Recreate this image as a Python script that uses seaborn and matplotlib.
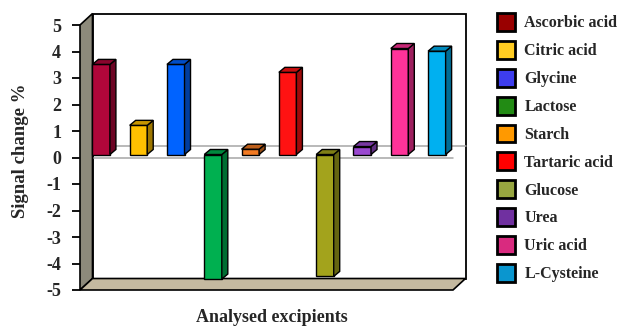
import numpy as np
import pandas as pd
import matplotlib
matplotlib.use("Agg")
import matplotlib.pyplot as plt
from matplotlib.patches import Polygon, Patch
import seaborn as sns

# Signal change caused by each excipient
excipients = ["Ascorbic acid", "Citric acid", "Glycine", "Lactose", "Starch",
              "Tartaric acid", "Glucose", "Urea", "Uric acid", "L-Cysteine"]
signal_change = [3.4, 1.1, 3.4, -4.7, 0.2, 3.1, -4.6, 0.3, 4.0, 3.9]

bar_colors = ["#b0063a", "#ffc000", "#0063ff", "#00b050", "#f27a22",
              "#ff1212", "#a3a31c", "#9a48d0", "#ff3399", "#00b0f0"]
legend_colors = ["#990000", "#ffcc22", "#3d3dee", "#228b14", "#ff9900",
                 "#ff0000", "#97a640", "#7030a0", "#d92a7f", "#0a96cf"]

y_ticks = [-5, -4, -3, -2, -1, 0, 1, 2, 3, 4, 5]

sns.set_style("white")
plt.rcParams["font.family"] = ["Liberation Serif", "DejaVu Serif"]
plt.rcParams["font.weight"] = "bold"

W, H, DPI = 619, 328, 100
fig = plt.figure(figsize=(W / DPI, H / DPI), dpi=DPI)
# front plane of the 3-D box, in pixels
L, R, T, B = 80, 453, 25, 290
ax = fig.add_axes([L / W, (H - B) / H, (R - L) / W, (B - T) / H])

df = pd.DataFrame({"excipient": excipients, "change": signal_change})
sns.barplot(data=df, x="excipient", y="change", hue="excipient",
            palette=bar_colors, width=0.47, saturation=1, legend=False,
            edgecolor="black", linewidth=1.0, ax=ax, zorder=3)

ax.set_xlim(-0.5, len(excipients) - 0.5)
ax.set_ylim(-5, 5)


def px(dx, dy):
    """Convert a pixel offset (y up) into data units."""
    p0 = ax.transData.transform((0, 0))
    q = ax.transData.inverted().transform(p0 + np.array([dx, dy]))
    return q[0], q[1]


wx, wy = px(12.5, 11.5)      # depth of the box
bx, by = px(2.5, 3.0)        # bars sit inside the box
dx, dy = px(6.0, 5.0)        # depth of each bar

x0, x1 = -0.5, len(excipients) - 0.5
# back wall
ax.add_patch(Polygon([(x0 + wx, -5 + wy), (x1 + wx, -5 + wy), (x1 + wx, 5 + wy),
                      (x0 + wx, 5 + wy)], closed=True, facecolor="white",
                     edgecolor="black", linewidth=1.3, zorder=0.5, clip_on=False))
# zero lines on the back wall and on the front plane
ax.plot([x0 + wx, x1 + wx], [wy, wy], color="#a6a6a6", lw=1.1, zorder=1, clip_on=False)
ax.plot([x0, x1], [0, 0], color="#a6a6a6", lw=1.1, zorder=1, clip_on=False)
# left side wall
ax.add_patch(Polygon([(x0, -5), (x0, 5), (x0 + wx, 5 + wy), (x0 + wx, -5 + wy)],
                     closed=True, facecolor="#8d8a7b", edgecolor="black",
                     linewidth=1.2, zorder=2, clip_on=False))
# floor
ax.add_patch(Polygon([(x0, -5), (x1, -5), (x1 + wx, -5 + wy), (x0 + wx, -5 + wy)],
                     closed=True, facecolor="#c4b9a0", edgecolor="black",
                     linewidth=1.2, zorder=2, clip_on=False))


def shade(c, f):
    r, g, b = matplotlib.colors.to_rgb(c)
    return (r * f, g * f, b * f)


for patch, col in zip(ax.patches[:len(excipients)], bar_colors):
    patch.set_x(patch.get_x() + bx)
    patch.set_y(patch.get_y() + by)
    px0 = patch.get_x()
    px1 = px0 + patch.get_width()
    y0 = patch.get_y()
    y1 = y0 + patch.get_height()
    ylo, yhi = min(y0, y1), max(y0, y1)
    side = Polygon([(px1, ylo), (px1, yhi), (px1 + dx, yhi + dy), (px1 + dx, ylo + dy)],
                   closed=True, facecolor=shade(col, 0.62), edgecolor="black",
                   linewidth=1.0, zorder=3, clip_on=False)
    top = Polygon([(px0, yhi), (px1, yhi), (px1 + dx, yhi + dy), (px0 + dx, yhi + dy)],
                  closed=True, facecolor=shade(col, 0.78), edgecolor="black",
                  linewidth=1.0, zorder=3, clip_on=False)
    ax.add_patch(side)
    ax.add_patch(top)
    patch.set_clip_on(False)

for s in ax.spines.values():
    s.set_visible(False)
ax.set_xticks([])
ax.set_yticks(y_ticks)
ax.set_yticklabels([str(t) for t in y_ticks])
ax.tick_params(axis="y", left=True, direction="out", length=5.5, width=1.3,
               pad=8, labelsize=13, color="black")
for lab in ax.get_yticklabels():
    lab.set_fontweight("bold")

ax.set_ylabel("Signal change %", fontsize=13.5, fontweight="bold")
ax.yaxis.set_label_coords((20 - L) / (R - L), (B - 151) / (B - T))
ax.yaxis.label.set_va("center")
ax.set_xlabel("Analysed excipients", fontsize=13, fontweight="bold")
ax.xaxis.set_label_coords((271.5 - L) / (R - L), (B - 318) / (B - T))
ax.xaxis.label.set_va("center")

handles = [Patch(facecolor=c, edgecolor="black", linewidth=2.0) for c in legend_colors]
fig.legend(handles, excipients, loc="upper left", bbox_to_anchor=(497 / W, 1 - 13 / H),
           frameon=False, prop={"weight": "bold", "size": 11.5},
           handlelength=1.1, handleheight=1.35, handletextpad=0.62,
           labelspacing=0.6, borderpad=0, borderaxespad=0)

fig.savefig("out.png", dpi=DPI)
